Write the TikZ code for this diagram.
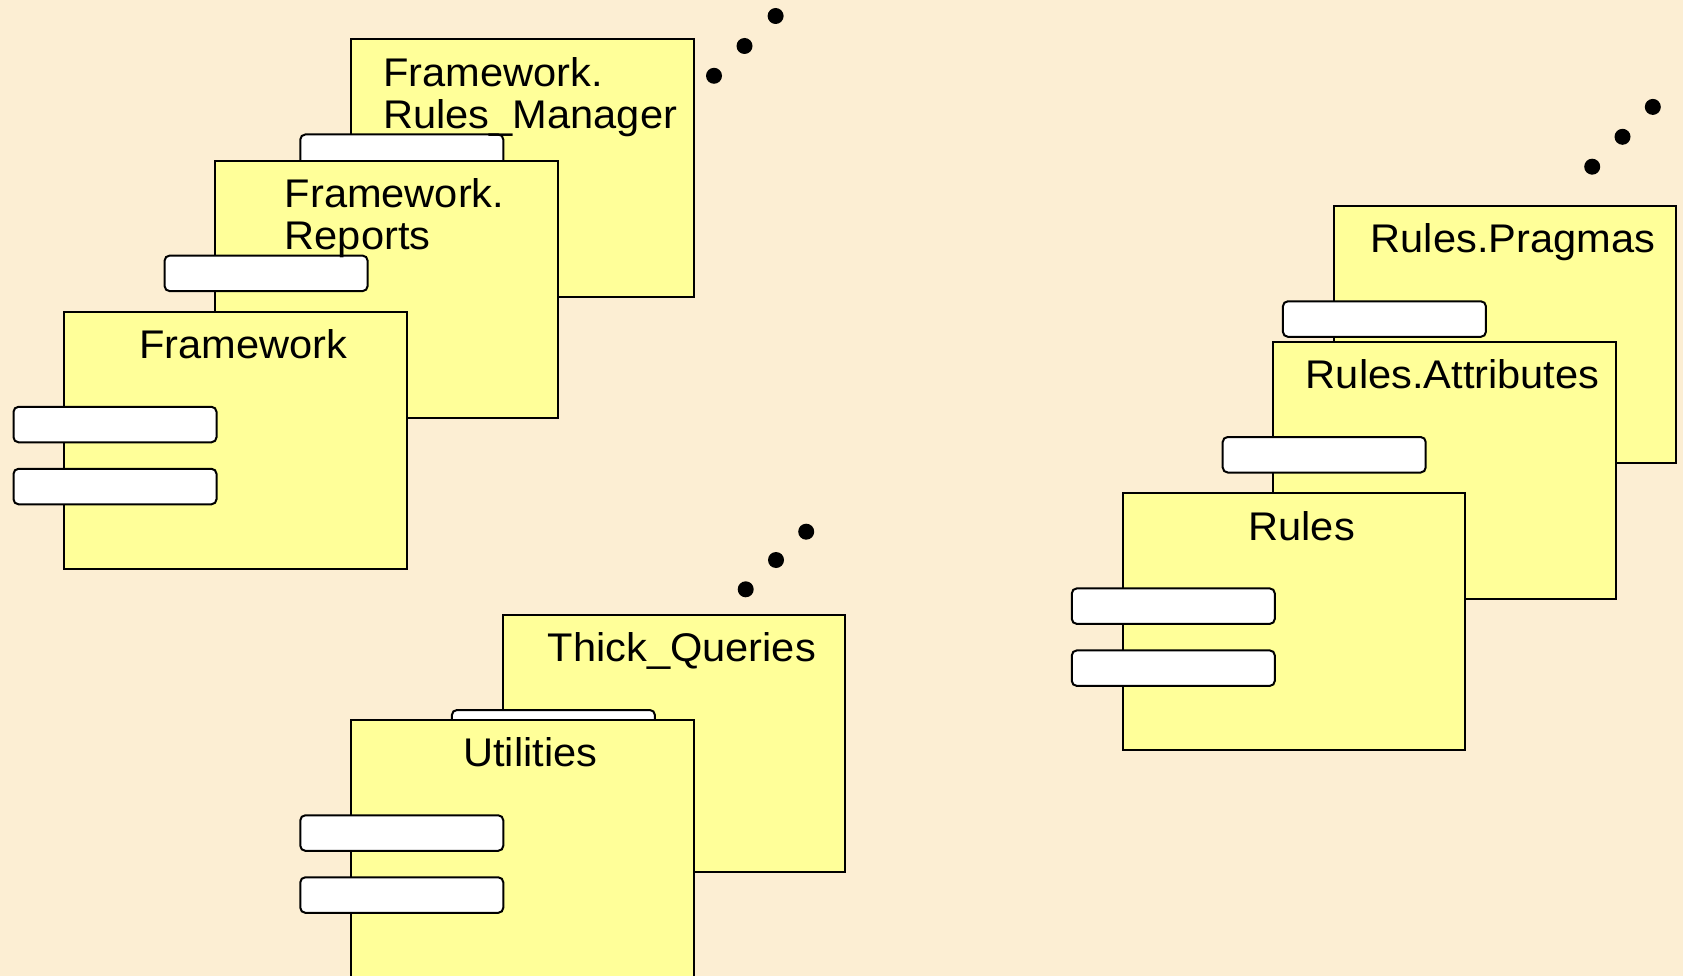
\documentclass[tikz,border=0pt]{standalone}
\usepackage{fontspec}
\setmainfont{Liberation Sans}[FakeStretch=1.04]
\usetikzlibrary{calc}

\definecolor{paper}{HTML}{FCEED3}
\definecolor{pkgfill}{HTML}{FFFF99}

\tikzset{
  pkgbox/.style={draw=black, line width=2pt, fill=pkgfill, inner sep=0pt,
    minimum width=342.5pt, minimum height=257pt, anchor=north west},
  pkgtab/.style={draw=black, line width=2pt, fill=white, rounded corners=5pt,
    inner sep=0pt, minimum width=203pt, minimum height=35.5pt, anchor=north west},
  pkgtitle/.style={anchor=north, inner sep=0pt, align=left,
    font=\fontsize{40}{42}\selectfont},
  ellipsisdot/.style={fill=black, circle, inner sep=0pt, minimum size=16pt}
}

% one package: frame, two interface tabs on its left edge, centred title
\newcommand\packagebox[4]{%
  \node[pkgbox] (#1) at (#2,#3) {};
  \node[pkgtab] (#1-tabA) at ($(#1.north west)+(-50.7,95)$) {};
  \node[pkgtab] (#1-tabB) at ($(#1.north west)+(-50.7,157)$) {};
  \node[pkgtitle] (#1-title) at ($(#1.north)+(8,18.5)$) {#4};
}

\begin{document}
\begin{tikzpicture}[x=1pt, y=-1pt]
  \useasboundingbox (0,0) rectangle (1683,976);
  \fill[paper] (0,0) rectangle (1683,976);

  % Framework stack
  \packagebox{rmgr}{350}{38.5}{Framework.\\Rules\_Manager}
  \packagebox{reports}{214.3}{159.6}{Framework.\\Reports}
  \packagebox{framework}{63.2}{310.8}{Framework}
  \node[ellipsisdot] (rd1) at (714,75.8) {};
  \node[ellipsisdot] (rd2) at (744.5,46) {};
  \node[ellipsisdot] (rd3) at (775.6,16) {};

  % Rules stack
  \packagebox{pragmas}{1332.6}{205.3}{Rules.Pragmas}
  \packagebox{attributes}{1272.4}{341}{Rules.Attributes}
  \packagebox{rules}{1121.5}{492.4}{Rules}
  \node[ellipsisdot] (pd1) at (1592.2,166.7) {};
  \node[ellipsisdot] (pd2) at (1622.5,136.8) {};
  \node[ellipsisdot] (pd3) at (1652.8,106.9) {};

  % Utilities stack
  \packagebox{thick}{501.6}{614}{Thick\_Queries}
  \packagebox{utilities}{350}{719.3}{Utilities}
  \node[ellipsisdot] (td1) at (745.7,589.3) {};
  \node[ellipsisdot] (td2) at (776,560) {};
  \node[ellipsisdot] (td3) at (806.2,531.7) {};
\end{tikzpicture}
\end{document}
